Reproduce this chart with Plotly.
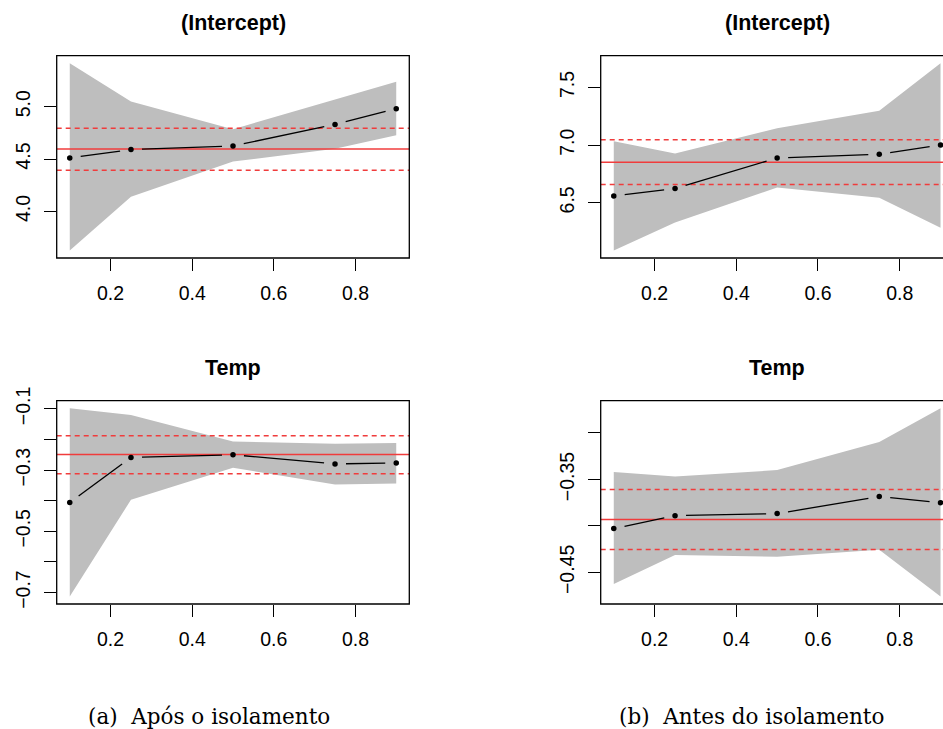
import plotly.graph_objects as go

# ---------------- data ----------------
tau = [0.1, 0.25, 0.5, 0.75, 0.9]
tick_x = [0.2, 0.4, 0.6, 0.8]
tick_x_text = ["0.2", "0.4", "0.6", "0.8"]

# (a) Após o isolamento -- (Intercept)
a_int_coef = [4.51, 4.59, 4.625, 4.83, 4.98]
a_int_lo = [3.626, 4.139, 4.475, 4.599, 4.727]
a_int_hi = [5.415, 5.05, 4.785, 5.07, 5.237]
a_int_ols = [4.595, 4.393, 4.794]  # estimate, lower, upper

# (a) Após o isolamento -- Temp
a_tmp_coef = [-0.406, -0.259, -0.250, -0.280, -0.277]
a_tmp_lo = [-0.713, -0.397, -0.2925, -0.347, -0.344]
a_tmp_hi = [-0.098, -0.120, -0.2065, -0.214, -0.212]
a_tmp_ols = [-0.249, -0.312, -0.188]

# (b) Antes do isolamento -- (Intercept)
b_int_coef = [6.558, 6.624, 6.888, 6.92, 7.0]
b_int_lo = [6.086, 6.328, 6.633, 6.543, 6.284]
b_int_hi = [7.034, 6.928, 7.147, 7.297, 7.71]
b_int_ols = [6.851, 6.659, 7.047]

# (b) Antes do isolamento -- Temp
b_tmp_coef = [-0.4029, -0.389, -0.3868, -0.3685, -0.375]
b_tmp_lo = [-0.4625, -0.4315, -0.4333, -0.4258, -0.476]
b_tmp_hi = [-0.342, -0.347, -0.340, -0.3098, -0.2734]
b_tmp_ols = [-0.3932, -0.4255, -0.3608]

titles = ["(Intercept)", "(Intercept)", "Temp", "Temp"]
captions = ["(a)&nbsp; Após o isolamento", "(b)&nbsp; Antes do isolamento"]

M = "\u2212"
yticks = [
    ([4.0, 4.5, 5.0], ["4.0", "4.5", "5.0"]),
    ([6.5, 7.0, 7.5], ["6.5", "7.0", "7.5"]),
    ([-0.7, -0.6, -0.5, -0.4, -0.3, -0.2, -0.1],
     [M + "0.7", "", M + "0.5", "", M + "0.3", "", M + "0.1"]),
    ([-0.45, -0.40, -0.35, -0.30], [M + "0.45", "", M + "0.35", ""]),
]

panels = [
    (a_int_coef, a_int_lo, a_int_hi, a_int_ols),
    (b_int_coef, b_int_lo, b_int_hi, b_int_ols),
    (a_tmp_coef, a_tmp_lo, a_tmp_hi, a_tmp_ols),
    (b_tmp_coef, b_tmp_lo, b_tmp_hi, b_tmp_ols),
]

# ---------------- layout geometry (pixels) ----------------
W, H = 943, 729
# full R plot region (left, right, top, bottom) in pixels
boxes = [
    (56.7, 409.3, 55.7, 258.0),
    (600.7, 953.6, 55.7, 258.0),
    (56.7, 409.3, 400.7, 604.0),
    (600.7, 953.6, 400.7, 604.0),
]

GRAY = "#bebebe"
RED = "#f03c3c"
FONT = "Liberation Sans, Arial, sans-serif"

fig = go.Figure()
shapes = []
annotations = []


def r_range(vals):
    lo, hi = min(vals), max(vals)
    d = (hi - lo) * 0.04
    return [lo - d, hi + d]


for i, ((coef, lo, hi, ols), (L, R, T, B)) in enumerate(zip(panels, boxes)):
    n = i + 1
    xa = "x" if n == 1 else f"x{n}"
    ya = "y" if n == 1 else f"y{n}"
    xr = r_range(tau)
    yr = r_range(lo + hi)
    # visible portion (right panels are cut by the page edge)
    Rv = min(R, W)
    xr_vis = [xr[0], xr[0] + (Rv - L) / (R - L) * (xr[1] - xr[0])]
    pxx = (Rv - L) / (xr_vis[1] - xr_vis[0])
    pxy = (B - T) / (yr[1] - yr[0])

    # confidence band
    fig.add_trace(go.Scatter(
        x=tau + tau[::-1], y=hi + lo[::-1], fill="toself", fillcolor=GRAY,
        line=dict(width=0), mode="lines", hoverinfo="skip", showlegend=False,
        xaxis=xa, yaxis=ya))
    # OLS lines
    for k, yv in enumerate(ols):
        fig.add_trace(go.Scatter(
            x=xr_vis, y=[yv, yv], mode="lines",
            line=dict(color=RED, width=1.6 if k == 0 else 1.5,
                      dash="solid" if k == 0 else "5px,4px"),
            hoverinfo="skip", showlegend=False, xaxis=xa, yaxis=ya))
    # type "b" line segments with gaps around points
    gap = 11.0
    sx, sy = [], []
    for j in range(len(tau) - 1):
        dxp = (tau[j + 1] - tau[j]) * pxx
        dyp = (coef[j + 1] - coef[j]) * pxy
        ln = (dxp ** 2 + dyp ** 2) ** 0.5
        if ln <= 2 * gap:
            continue
        f = gap / ln
        dx = tau[j + 1] - tau[j]
        dy = coef[j + 1] - coef[j]
        sx += [tau[j] + f * dx, tau[j + 1] - f * dx, None]
        sy += [coef[j] + f * dy, coef[j + 1] - f * dy, None]
    fig.add_trace(go.Scatter(
        x=sx, y=sy, mode="lines", line=dict(color="black", width=1.3),
        hoverinfo="skip", showlegend=False, xaxis=xa, yaxis=ya))
    fig.add_trace(go.Scatter(
        x=tau, y=coef, mode="markers",
        marker=dict(color="black", size=5.5, line=dict(width=0)),
        hoverinfo="skip", showlegend=False, xaxis=xa, yaxis=ya))

    ax_common = dict(
        showgrid=False, zeroline=False, showline=False, automargin=False,
        ticks="outside", ticklen=12, tickwidth=1, tickcolor="black",
        tickfont=dict(family=FONT, size=19.5, color="black"),
    )
    fig.layout[f"xaxis{'' if n == 1 else n}"] = dict(
        ax_common, domain=[L / W, Rv / W], range=xr_vis,
        anchor=ya, tickvals=tick_x, ticktext=tick_x_text,
        ticklabelstandoff=6)
    tv, tt = yticks[i]
    fig.layout[f"yaxis{'' if n == 1 else n}"] = dict(
        ax_common, domain=[1 - B / H, 1 - T / H], range=yr,
        anchor=xa, tickvals=tv, ticktext=tt, tickangle=-90,
        ticklabelstandoff=6)

    # box
    shapes.append(dict(
        type="rect", xref=f"{xa} domain", yref=f"{ya} domain",
        x0=0, x1=(R - L) / (Rv - L), y0=0, y1=1,
        line=dict(color="black", width=1.3), layer="above"))

    # title
    annotations.append(dict(
        text=f"<b>{titles[i]}</b>", xref="paper", yref="paper",
        x=((L + R) / 2) / W, y=1 - (T - 33) / H, xanchor="center",
        yanchor="middle", showarrow=False,
        font=dict(family=FONT, size=21.5, color="black")))

# captions
cap_x = [209, 751]
for cx, ct in zip(cap_x, captions):
    annotations.append(dict(
        text=ct, xref="paper", yref="paper", x=cx / W, y=1 - 716 / H,
        xanchor="center", yanchor="middle", showarrow=False,
        font=dict(family="DejaVu Serif, serif", size=21.5, color="black")))

fig.update_layout(
    width=W, height=H, margin=dict(l=0, r=0, t=0, b=0, pad=0),
    paper_bgcolor="white", plot_bgcolor="white",
    shapes=shapes, annotations=annotations, showlegend=False)

fig.write_html("out.html")
